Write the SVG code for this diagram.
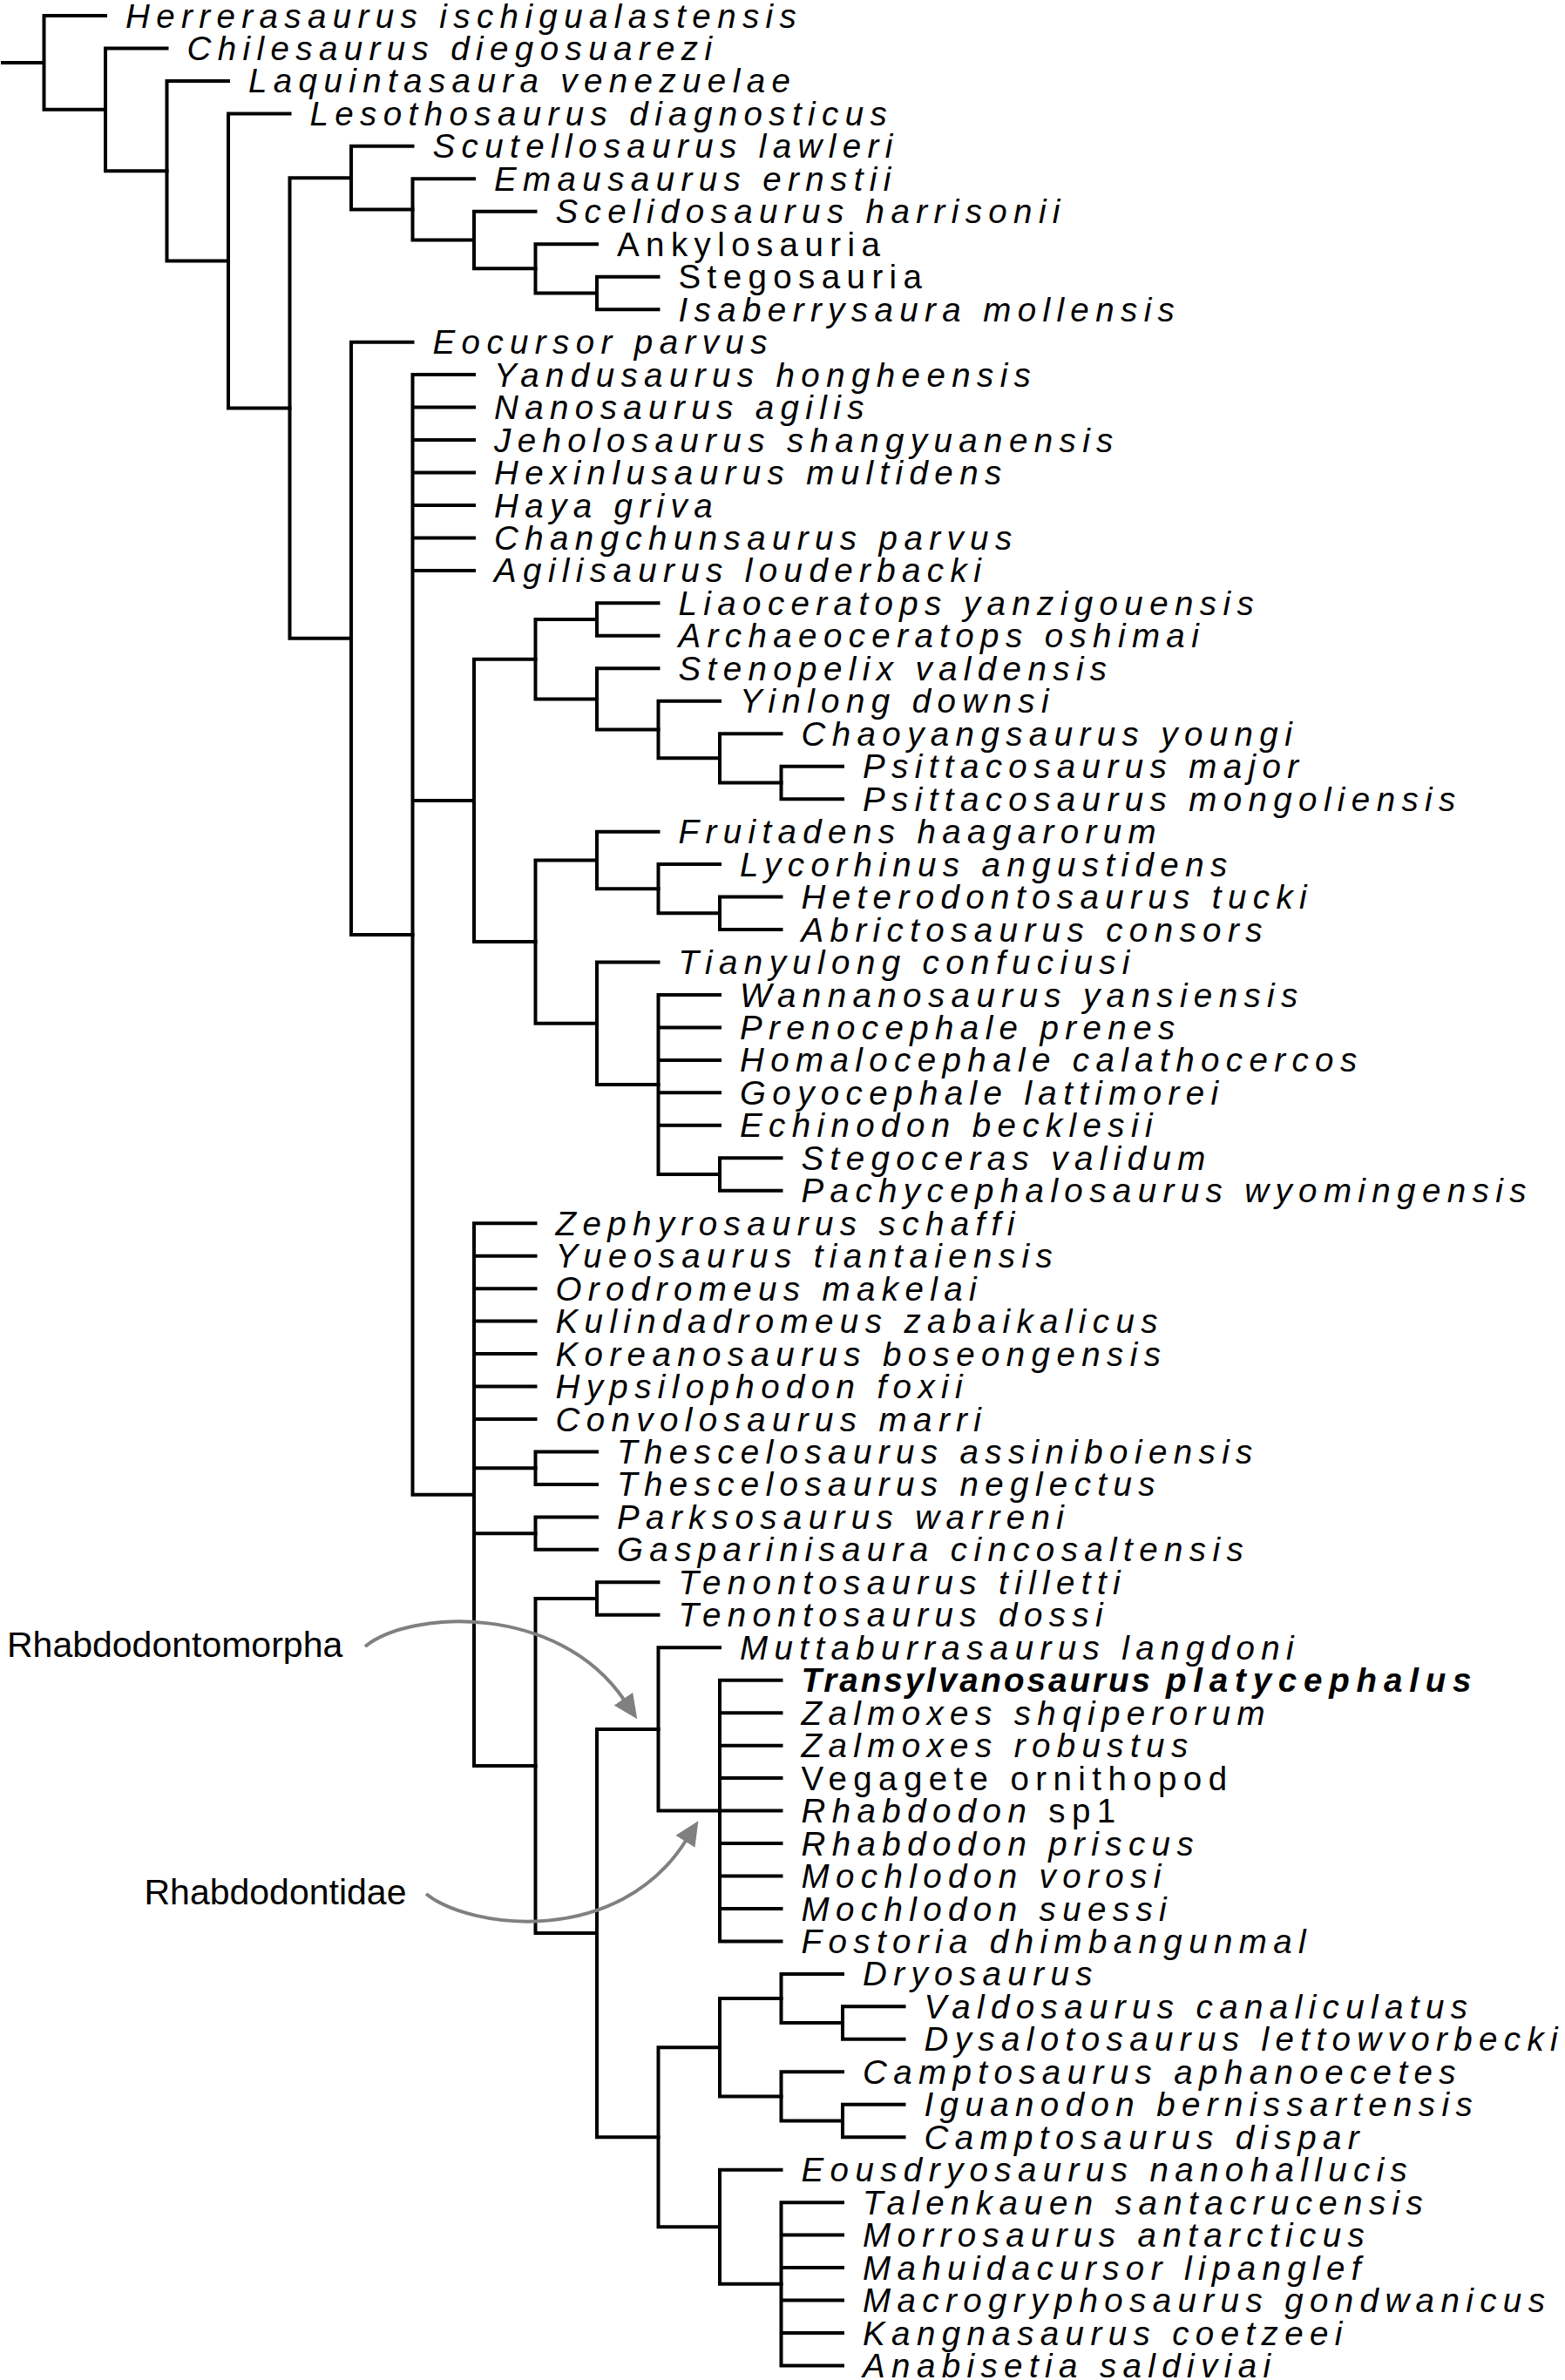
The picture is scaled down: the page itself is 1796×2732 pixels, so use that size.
<svg xmlns="http://www.w3.org/2000/svg" width="1796" height="2732" viewBox="0 0 1796 2732">
<style>
.br{fill:none;stroke:#000;stroke-width:4;stroke-linecap:square;stroke-linejoin:miter}
.t{font-family:"Liberation Sans",Arial,Helvetica,sans-serif;font-size:38.5px;letter-spacing:7.4px;font-style:italic;fill:#000}
.r{font-style:normal}
.b{font-weight:bold}
.ann{font-family:"Liberation Sans",Arial,Helvetica,sans-serif;font-size:41px;fill:#000}
.arr{fill:none;stroke:#808080;stroke-width:4}
</style>
<defs>
<marker id="ah" markerUnits="userSpaceOnUse" markerWidth="28" markerHeight="26" refX="1" refY="13" orient="auto" viewBox="0 0 28 26"><path d="M0,0 L28,13 L0,26 Z" fill="#808080"/></marker>
</defs>
<rect width="1796" height="2732" fill="#fff"/>
<g id="connectors" class="br">
<path d="M3,71.91 H50.5 M121,18 H50.5 V125.82 H121"/>
<path d="M191.5,55.47 H121 V196.18 H191.5"/>
<path d="M262,92.93 H191.5 V299.43 H262"/>
<path d="M332.5,130.4 H262 V468.47 H332.5"/>
<path d="M403,204.16 H332.5 V732.77 H403"/>
<path d="M473.5,167.86 H403 V240.45 H473.5"/>
<path d="M544,205.33 H473.5 V275.58 H544"/>
<path d="M614.5,242.79 H544 V308.36 H614.5"/>
<path d="M685,280.26 H614.5 V336.46 H685"/>
<path d="M755.5,317.72 H685 V355.19 H755.5"/>
<path d="M473.5,392.65 H403 V1072.88 H473.5"/>
<path d="M544,430.12 H473.5 V1715.64 H544 M473.5,467.58 H544 M473.5,505.05 H544 M473.5,542.51 H544 M473.5,579.98 H544 M473.5,617.44 H544 M473.5,654.91 H544 M473.5,918.93 H544"/>
<path d="M614.5,756.77 H544 V1081.08 H614.5"/>
<path d="M685,711.11 H614.5 V802.43 H685"/>
<path d="M755.5,692.37 H685 V729.84 H755.5"/>
<path d="M755.5,767.3 H685 V837.55 H755.5"/>
<path d="M826,804.77 H755.5 V870.33 H826"/>
<path d="M896.5,842.23 H826 V898.43 H896.5"/>
<path d="M967,879.7 H896.5 V917.16 H967"/>
<path d="M685,987.41 H614.5 V1174.74 H685"/>
<path d="M755.5,954.63 H685 V1020.19 H755.5"/>
<path d="M826,992.09 H755.5 V1048.29 H826"/>
<path d="M896.5,1029.56 H826 V1067.02 H896.5"/>
<path d="M755.5,1104.49 H685 V1244.98 H755.5"/>
<path d="M826,1141.95 H755.5 V1348.01 H826 M755.5,1179.42 H826 M755.5,1216.88 H826 M755.5,1254.35 H826 M755.5,1291.81 H826"/>
<path d="M896.5,1329.28 H826 V1366.74 H896.5"/>
<path d="M614.5,1404.21 H544 V2027.07 H614.5 M544,1441.67 H614.5 M544,1479.14 H614.5 M544,1516.6 H614.5 M544,1554.07 H614.5 M544,1591.53 H614.5 M544,1629 H614.5 M544,1685.2 H614.5 M544,1760.13 H614.5"/>
<path d="M685,1666.46 H614.5 V1703.93 H685"/>
<path d="M685,1741.39 H614.5 V1778.86 H685"/>
<path d="M685,1835.06 H614.5 V2219.08 H685"/>
<path d="M755.5,1816.32 H685 V1853.79 H755.5"/>
<path d="M755.5,1984.92 H685 V2453.23 H755.5"/>
<path d="M826,1891.25 H755.5 V2078.58 H826"/>
<path d="M896.5,1928.72 H826 V2228.44 H896.5 M826,1966.18 H896.5 M826,2003.65 H896.5 M826,2041.11 H896.5 M826,2078.58 H896.5 M826,2116.04 H896.5 M826,2153.51 H896.5 M826,2190.97 H896.5"/>
<path d="M826,2350.2 H755.5 V2556.26 H826"/>
<path d="M896.5,2294 H826 V2406.4 H896.5"/>
<path d="M967,2265.9 H896.5 V2322.1 H967"/>
<path d="M1037.5,2303.37 H967 V2340.83 H1037.5"/>
<path d="M967,2378.3 H896.5 V2434.5 H967"/>
<path d="M1037.5,2415.76 H967 V2453.23 H1037.5"/>
<path d="M896.5,2490.69 H826 V2621.82 H896.5"/>
<path d="M967,2528.16 H896.5 V2715.48 H967 M896.5,2565.62 H967 M896.5,2603.09 H967 M896.5,2640.55 H967 M896.5,2678.02 H967"/>
</g>
<g id="taxa">
<g id="t00"><text class="t" x="144" y="31.5">Herrerasaurus ischigualastensis</text></g>
<g id="t01"><text class="t" x="214.5" y="69">Chilesaurus diegosuarezi</text></g>
<g id="t02"><text class="t" x="285" y="106.4">Laquintasaura venezuelae</text></g>
<g id="t03"><text class="t" x="355.5" y="143.9">Lesothosaurus diagnosticus</text></g>
<g id="t04"><text class="t" x="496.5" y="181.4">Scutellosaurus lawleri</text></g>
<g id="t05"><text class="t" x="567" y="218.8">Emausaurus ernstii</text></g>
<g id="t06"><text class="t" x="637.5" y="256.3">Scelidosaurus harrisonii</text></g>
<g id="t07"><text class="t r" x="708" y="293.8">Ankylosauria</text></g>
<g id="t08"><text class="t r" x="778.5" y="331.2">Stegosauria</text></g>
<g id="t09"><text class="t" x="778.5" y="368.7">Isaberrysaura mollensis</text></g>
<g id="t10"><text class="t" x="496.5" y="406.2">Eocursor parvus</text></g>
<g id="t11"><text class="t" x="567" y="443.6">Yandusaurus hongheensis</text></g>
<g id="t12"><text class="t" x="567" y="481.1">Nanosaurus agilis</text></g>
<g id="t13"><text class="t" x="567" y="518.6">Jeholosaurus shangyuanensis</text></g>
<g id="t14"><text class="t" x="567" y="556">Hexinlusaurus multidens</text></g>
<g id="t15"><text class="t" x="567" y="593.5">Haya griva</text></g>
<g id="t16"><text class="t" x="567" y="630.9">Changchunsaurus parvus</text></g>
<g id="t17"><text class="t" x="567" y="668.4">Agilisaurus louderbacki</text></g>
<g id="t18"><text class="t" x="778.5" y="705.9">Liaoceratops yanzigouensis</text></g>
<g id="t19"><text class="t" x="778.5" y="743.3">Archaeoceratops oshimai</text></g>
<g id="t20"><text class="t" x="778.5" y="780.8">Stenopelix valdensis</text></g>
<g id="t21"><text class="t" x="849" y="818.3">Yinlong downsi</text></g>
<g id="t22"><text class="t" x="919.5" y="855.7">Chaoyangsaurus youngi</text></g>
<g id="t23"><text class="t" x="990" y="893.2">Psittacosaurus major</text></g>
<g id="t24"><text class="t" x="990" y="930.7">Psittacosaurus mongoliensis</text></g>
<g id="t25"><text class="t" x="778.5" y="968.1">Fruitadens haagarorum</text></g>
<g id="t26"><text class="t" x="849" y="1005.6">Lycorhinus angustidens</text></g>
<g id="t27"><text class="t" x="919.5" y="1043.1">Heterodontosaurus tucki</text></g>
<g id="t28"><text class="t" x="919.5" y="1080.5">Abrictosaurus consors</text></g>
<g id="t29"><text class="t" x="778.5" y="1118">Tianyulong confuciusi</text></g>
<g id="t30"><text class="t" x="849" y="1155.5">Wannanosaurus yansiensis</text></g>
<g id="t31"><text class="t" x="849" y="1192.9">Prenocephale prenes</text></g>
<g id="t32"><text class="t" x="849" y="1230.4">Homalocephale calathocercos</text></g>
<g id="t33"><text class="t" x="849" y="1267.9">Goyocephale lattimorei</text></g>
<g id="t34"><text class="t" x="849" y="1305.3">Echinodon becklesii</text></g>
<g id="t35"><text class="t" x="919.5" y="1342.8">Stegoceras validum</text></g>
<g id="t36"><text class="t" x="919.5" y="1380.2">Pachycephalosaurus wyomingensis</text></g>
<g id="t37"><text class="t" x="637.5" y="1417.7">Zephyrosaurus schaffi</text></g>
<g id="t38"><text class="t" x="637.5" y="1455.2">Yueosaurus tiantaiensis</text></g>
<g id="t39"><text class="t" x="637.5" y="1492.6">Orodromeus makelai</text></g>
<g id="t40"><text class="t" x="637.5" y="1530.1">Kulindadromeus zabaikalicus</text></g>
<g id="t41"><text class="t" x="637.5" y="1567.6">Koreanosaurus boseongensis</text></g>
<g id="t42"><text class="t" x="637.5" y="1605">Hypsilophodon foxii</text></g>
<g id="t43"><text class="t" x="637.5" y="1642.5">Convolosaurus marri</text></g>
<g id="t44"><text class="t" x="708" y="1680">Thescelosaurus assiniboiensis</text></g>
<g id="t45"><text class="t" x="708" y="1717.4">Thescelosaurus neglectus</text></g>
<g id="t46"><text class="t" x="708" y="1754.9">Parksosaurus warreni</text></g>
<g id="t47"><text class="t" x="708" y="1792.4">Gasparinisaura cincosaltensis</text></g>
<g id="t48"><text class="t" x="778.5" y="1829.8">Tenontosaurus tilletti</text></g>
<g id="t49"><text class="t" x="778.5" y="1867.3">Tenontosaurus dossi</text></g>
<g id="t50"><text class="t" x="849" y="1904.8">Muttaburrasaurus langdoni</text></g>
<g id="t51"><text class="t b" x="919.5" y="1942.2"><tspan letter-spacing="3">Transylvanosaurus</tspan><tspan x="1338" letter-spacing="7.8">platycephalus</tspan></text></g>
<g id="t52"><text class="t" x="919.5" y="1979.7">Zalmoxes shqiperorum</text></g>
<g id="t53"><text class="t" x="919.5" y="2017.2">Zalmoxes robustus</text></g>
<g id="t54"><text class="t r" x="919.5" y="2054.6">Vegagete ornithopod</text></g>
<g id="t55"><text class="t" x="919.5" y="2092.1">Rhabdodon<tspan class="r"> sp1</tspan></text></g>
<g id="t56"><text class="t" x="919.5" y="2129.5">Rhabdodon priscus</text></g>
<g id="t57"><text class="t" x="919.5" y="2167">Mochlodon vorosi</text></g>
<g id="t58"><text class="t" x="919.5" y="2204.5">Mochlodon suessi</text></g>
<g id="t59"><text class="t" x="919.5" y="2241.9">Fostoria dhimbangunmal</text></g>
<g id="t60"><text class="t" x="990" y="2279.4">Dryosaurus</text></g>
<g id="t61"><text class="t" x="1060.5" y="2316.9">Valdosaurus canaliculatus</text></g>
<g id="t62"><text class="t" x="1060.5" y="2354.3">Dysalotosaurus lettowvorbecki</text></g>
<g id="t63"><text class="t" x="990" y="2391.8">Camptosaurus aphanoecetes</text></g>
<g id="t64"><text class="t" x="1060.5" y="2429.3">Iguanodon bernissartensis</text></g>
<g id="t65"><text class="t" x="1060.5" y="2466.7">Camptosaurus dispar</text></g>
<g id="t66"><text class="t" x="919.5" y="2504.2">Eousdryosaurus nanohallucis</text></g>
<g id="t67"><text class="t" x="990" y="2541.7">Talenkauen santacrucensis</text></g>
<g id="t68"><text class="t" x="990" y="2579.1">Morrosaurus antarcticus</text></g>
<g id="t69"><text class="t" x="990" y="2616.6">Mahuidacursor lipanglef</text></g>
<g id="t70"><text class="t" x="990" y="2654.1">Macrogryphosaurus gondwanicus</text></g>
<g id="t71"><text class="t" x="990" y="2691.5">Kangnasaurus coetzeei</text></g>
<g id="t72"><text class="t" x="990" y="2729">Anabisetia saldiviai</text></g>
</g>
<g id="annotations">
<g id="rhabdodontomorpha"><text class="ann" x="8" y="1902">Rhabdodontomorpha</text><path class="arr" d="M419,1890 C470,1848 640,1840 716,1951" marker-end="url(#ah)"/></g>
<g id="rhabdodontidae"><text class="ann" x="165.5" y="2186">Rhabdodontidae</text><path class="arr" d="M489,2174 C540,2215 710,2235 787,2113" marker-end="url(#ah)"/></g>
</g>
</svg>
